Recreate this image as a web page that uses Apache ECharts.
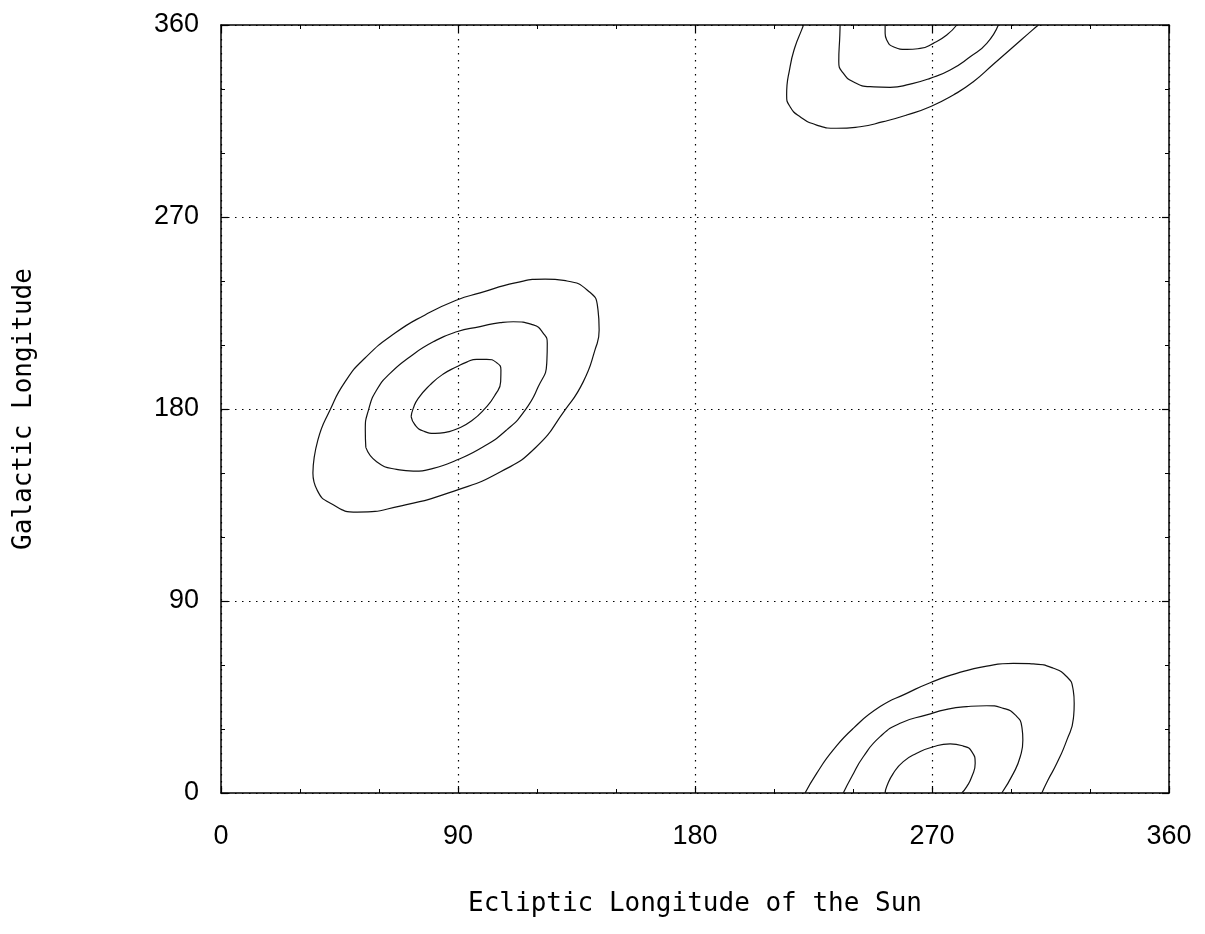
<!DOCTYPE html>
<html>
<head>
<meta charset="utf-8">
<script src="https://cdn.jsdelivr.net/npm/echarts@6/dist/echarts.min.js"></script>
<style>
  html, body { margin: 0; padding: 0; background: #fff; }
  #chart { width: 1205px; height: 934px; }
</style>
</head>
<body>
<div id="chart"></div>
<script>
// tick positions (degrees) for both axes
const xTicks = [0, 90, 180, 270, 360]
const yTicks = [0, 90, 180, 270, 360]

// contour lines, [ecliptic lon, galactic lon]
// central set around (90, 186)
const centerOuter = [
  [34.9, 150.0], [36.5, 142.0], [41.4, 135.9], [51.7, 131.7], [68.0, 134.5],
  [89.6, 142.0], [106.0, 150.5], [119.3, 161.7], [130.6, 179.5], [137.5, 192.6],
  [142.0, 207.6], [143.6, 217.0], [143.0, 228.0], [139.8, 235.0], [131.4, 240.0],
  [123.1, 240.9], [111.7, 239.1], [98.4, 234.4], [89.6, 231.1], [77.5, 224.1],
  [66.1, 215.6], [54.7, 203.9], [47.1, 192.7], [41.4, 179.5], [36.8, 165.5],
  [34.9, 150.0]
]
const centerMiddle = [
  [55.0, 162.0], [59.1, 155.3], [66.7, 151.7], [73.0, 150.9], [80.6, 152.2],
  [89.5, 156.1], [99.6, 162.3], [108.5, 170.2], [115.5, 179.5], [120.5, 190.5],
  [123.7, 201.4], [123.9, 210.8], [122.4, 215.5], [118.6, 219.4], [111.0, 220.9],
  [106.0, 220.5], [98.4, 218.6], [89.5, 216.2], [80.6, 211.5], [71.8, 204.5],
  [64.2, 196.7], [59.1, 188.9], [56.0, 179.5], [54.8, 170.2], [55.0, 162.0]
]
const centerInner = [
  [72.2, 176.4], [73.7, 172.5], [76.8, 169.7], [81.3, 168.6], [85.7, 169.2],
  [89.5, 170.6], [95.2, 174.5], [100.3, 180.3], [104.1, 186.6], [106.2, 192.8],
  [106.3, 198.3], [104.7, 201.7], [100.9, 203.3], [97.1, 203.3], [93.3, 202.0],
  [89.5, 199.8], [84.4, 196.4], [79.4, 191.3], [74.9, 185.0], [73.0, 180.3],
  [72.2, 176.4]
]

// lower right set, cut by the bottom edge
const bottomOuter = [
  [221.8, 0], [226.2, 9.2], [232.5, 20.2], [240.1, 30.3], [250.3, 40.5],
  [260.4, 46.7], [269.3, 51.7], [279.4, 56.1], [290.8, 59.5], [300.9, 60.8],
  [308.5, 60.5], [316.1, 58.5], [321.2, 54.5], [323.5, 49.1], [324.0, 42.0],
  [323.7, 35.0], [321.2, 24.8], [317.4, 13.9], [314.0, 6.0], [311.7, 0]
]
const bottomMiddle = [
  [236.3, 0], [239.5, 7.6], [243.9, 17.0], [250.3, 26.4], [257.9, 32.7],
  [268.0, 36.6], [275.6, 39.2], [283.2, 40.5], [290.8, 40.9], [297.1, 39.7],
  [301.6, 36.6], [304.1, 31.1], [304.5, 24.8], [303.5, 17.0], [300.9, 9.2],
  [296.5, 0]
]
const bottomInner = [
  [252.2, 0], [252.8, 3.0], [255.3, 9.2], [259.1, 14.7], [264.2, 18.6],
  [270.5, 21.7], [276.9, 23.0], [281.9, 22.0], [285.1, 19.4], [286.4, 13.9],
  [285.1, 7.6], [283.2, 3.0], [281.3, 0]
]

// upper right set, cut by the top edge
const topOuter = [
  [221.2, 360], [220.5, 357.7], [218.0, 349.8], [216.1, 340.4], [214.8, 327.2],
  [216.1, 321.7], [219.9, 317.0], [226.2, 313.1], [233.8, 311.6], [242.7, 312.3],
  [251.5, 314.7], [260.4, 317.8], [269.3, 321.7], [278.1, 327.2], [285.7, 333.4],
  [293.3, 341.6], [300.9, 349.8], [308.0, 357.5], [310.4, 360]
]
const topMiddle = [
  [235.1, 360], [235.0, 355.3], [234.6, 342.8], [236.3, 337.4], [240.1, 333.4],
  [246.5, 331.1], [254.1, 330.8], [261.7, 332.3], [269.3, 335.0], [276.9, 338.9],
  [284.5, 345.1], [290.8, 351.4], [295.2, 360]
]
const topInner = [
  [252.2, 360], [252.2, 356.1], [252.8, 353.0], [255.3, 349.8], [260.4, 348.6],
  [265.5, 349.0], [270.5, 351.4], [275.6, 355.3], [279.4, 360]
]

const contours = [
  centerOuter, centerMiddle, centerInner,
  bottomOuter, bottomMiddle, bottomInner,
  topOuter, topMiddle, topInner
]

const chart = echarts.init(document.getElementById('chart'))

const labelFont = "'Liberation Sans Narrow', 'Liberation Sans', sans-serif"
const nameFont = "'DejaVu Sans Mono', monospace"

function makeAxis (ticks, opts) {
  return Object.assign({
    type: 'value',
    min: ticks[0],
    max: ticks[ticks.length - 1],
    interval: ticks[1] - ticks[0],
    axisLine: { show: true, onZero: false, lineStyle: { color: '#000', width: 1.5 } },
    axisTick: { show: true, inside: true, length: 7, lineStyle: { color: '#000', width: 1.2 } },
    minorTick: { show: true, splitNumber: 3, length: 4, lineStyle: { color: '#000', width: 1 } },
    splitLine: { show: false },
    axisLabel: { show: false }
  }, opts)
}

const option = {
  backgroundColor: '#fff',
  animation: false,
  grid: { left: 221, right: 36, top: 25, bottom: 141, containLabel: false },
  xAxis: [
    makeAxis(xTicks, {
      position: 'bottom',
      name: 'Ecliptic Longitude of the Sun',
      nameLocation: 'middle',
      nameGap: 98,
      nameTextStyle: { fontFamily: nameFont, fontSize: 26, color: '#000' },
      axisLabel: { show: true, margin: 30, fontFamily: labelFont, fontSize: 27, color: '#000' },
      splitLine: { show: true, lineStyle: { color: '#000', type: [1.5, 5.5], width: 1.2 } }
    }),
    makeAxis(xTicks, { position: 'top' })
  ],
  yAxis: [
    makeAxis(yTicks, {
      position: 'left',
      name: 'Galactic Longitude',
      nameLocation: 'middle',
      nameGap: 184,
      nameTextStyle: { fontFamily: nameFont, fontSize: 26, color: '#000' },
      axisLabel: { show: true, margin: 22, fontFamily: labelFont, fontSize: 27, color: '#000' },
      splitLine: { show: true, lineStyle: { color: '#000', type: [1.5, 5.5], width: 1.2 } }
    }),
    makeAxis(yTicks, { position: 'right' })
  ],
  series: contours.map(function (pts) {
    return {
      type: 'line',
      xAxisIndex: 0,
      yAxisIndex: 0,
      data: pts,
      smooth: 0.55,
      showSymbol: false,
      symbol: 'none',
      silent: true,
      lineStyle: { color: '#111', width: 1.2 }
    }
  })
}

chart.setOption(option)
</script>
</body>
</html>
